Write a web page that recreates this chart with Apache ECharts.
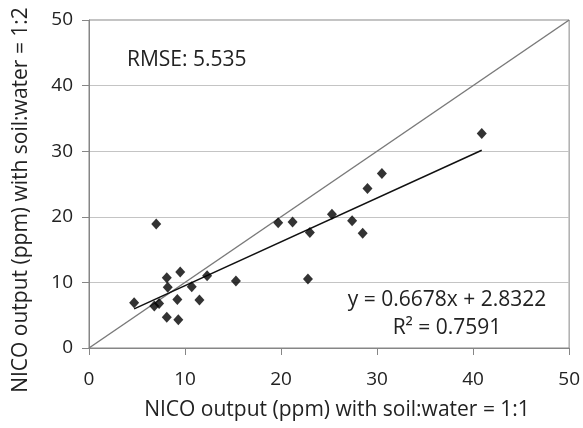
<!DOCTYPE html>
<html>
<head>
<meta charset="utf-8">
<script src="https://cdn.jsdelivr.net/npm/echarts@6/dist/echarts.min.js"></script>
<style>
html,body{margin:0;padding:0;background:#fff;}
#chart{width:583px;height:428px;}
</style>
</head>
<body>
<div id="chart"></div>
<script>
// Data
const xValues = [7.0, 4.7, 6.8, 7.3, 8.1, 8.2, 9.5, 9.2, 8.1, 9.3, 10.7, 11.5, 12.3, 15.3, 19.7, 21.2, 22.8, 23.0, 25.3, 27.4, 28.5, 29.0, 30.5, 40.9];
const yValues = [18.9, 6.9, 6.4, 6.8, 10.7, 9.25, 11.6, 7.4, 4.7, 4.3, 9.35, 7.3, 11.0, 10.2, 19.1, 19.2, 10.5, 17.6, 20.4, 19.4, 17.5, 24.3, 26.6, 32.7];
const oneToOneLine = [[0, 0], [50, 50]];
const trendSlope = 0.6678;
const trendIntercept = 2.8322;
const axisTicks = [0, 10, 20, 30, 40, 50];
const xTitle = 'NICO output (ppm) with soil:water = 1:1';
const yTitle = 'NICO output (ppm) with soil:water = 1:2';
const rmseText = 'RMSE: 5.535';
const eqText = 'y = 0.6678x + 2.8322';
const r2Text = 'R\u00b2 = 0.7591';

const points = xValues.map((x, i) => [x, yValues[i]]);
const xMin = Math.min(...xValues), xMax = Math.max(...xValues);
const trendLine = [[xMin, trendSlope * xMin + trendIntercept], [xMax, trendSlope * xMax + trendIntercept]];

const FONT = '"Open Sans", "Noto Sans", sans-serif';
const chart = echarts.init(document.getElementById('chart'), null, {renderer: 'canvas'});
chart.setOption({
  animation: false,
  backgroundColor: '#ffffff',
  grid: {left: 89, right: 10, top: 20, bottom: 80, show: true, borderColor: '#868686', borderWidth: 1},
  xAxis: {
    type: 'value', min: axisTicks[0], max: axisTicks[axisTicks.length - 1], interval: 10,
    axisLine: {show: true, lineStyle: {color: '#868686', width: 1}},
    axisTick: {show: true, inside: false, length: 7, lineStyle: {color: '#868686'}},
    axisLabel: {color: '#222', fontFamily: FONT, fontSize: 19, margin: 22},
    splitLine: {show: false}
  },
  yAxis: {
    type: 'value', min: axisTicks[0], max: axisTicks[axisTicks.length - 1], interval: 10,
    axisLine: {show: true, lineStyle: {color: '#868686', width: 1}},
    axisTick: {show: true, inside: false, length: 7, lineStyle: {color: '#868686'}},
    axisLabel: {color: '#222', fontFamily: FONT, fontSize: 19, margin: 16},
    splitLine: {show: true, lineStyle: {color: '#c4c4c4', width: 1}}
  },
  graphic: [
    {type: 'text', left: 127, top: 50, style: {text: rmseText, fill: '#222', font: '21px ' + FONT}},
    {type: 'text', x: 447, y: 300, style: {text: eqText, fill: '#222', font: '21px ' + FONT, textAlign: 'center', textVerticalAlign: 'middle'}},
    {type: 'text', x: 447, y: 328, style: {text: r2Text, fill: '#222', font: '21px ' + FONT, textAlign: 'center', textVerticalAlign: 'middle'}},
    {type: 'text', x: 337, y: 410, style: {text: xTitle, fill: '#222', font: '21px ' + FONT, textAlign: 'center', textVerticalAlign: 'middle'}},
    {type: 'text', x: 21, y: 200, rotation: Math.PI / 2, style: {text: yTitle, fill: '#222', font: '21px ' + FONT, textAlign: 'center', textVerticalAlign: 'middle'}}
  ],
  series: [
    {
      type: 'line', data: oneToOneLine, symbol: 'none', silent: true,
      lineStyle: {color: '#7a7a7a', width: 1.5}, z: 2
    },
    {
      type: 'line', data: trendLine, symbol: 'none', silent: true,
      lineStyle: {color: '#111111', width: 1.5}, z: 3
    },
    {
      type: 'scatter', data: points, symbol: 'diamond', symbolSize: [10, 11],
      itemStyle: {color: '#000000'}, z: 4
    }
  ]
});
</script>
</body>
</html>
